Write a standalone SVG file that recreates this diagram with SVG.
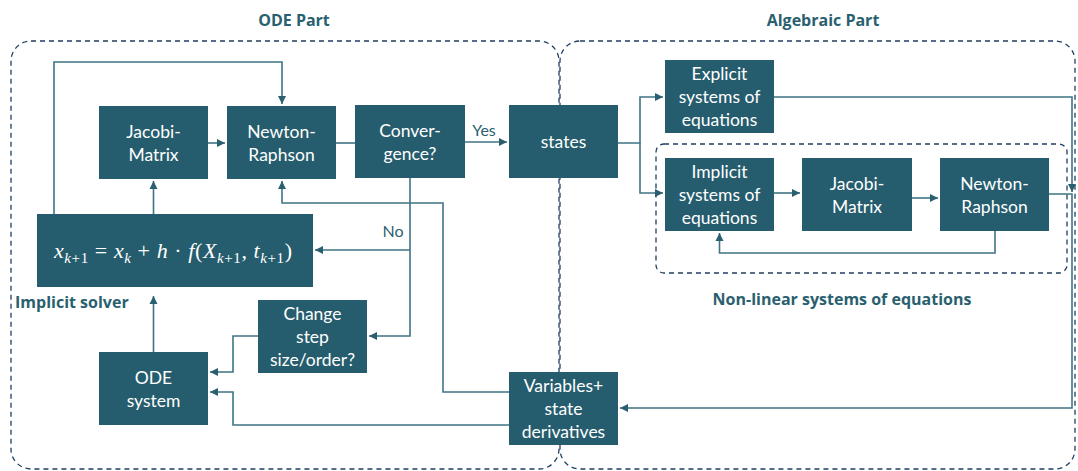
<svg xmlns="http://www.w3.org/2000/svg" width="1078" height="471" viewBox="0 0 1078 471">
<defs>
<style>
.box{fill:#255d6e;}
.lbl{font-family:Lato,"Open Sans","Liberation Sans",sans-serif;font-size:17.5px;fill:#ffffff;text-anchor:middle;}
.ttl{font-family:"Open Sans",Lato,"Liberation Sans",sans-serif;font-size:16px;font-weight:bold;fill:#2a5f70;text-anchor:middle;}
.dash{fill:none;stroke:#1f3f60;stroke-width:1.3;stroke-dasharray:5,4;}
.ln{fill:none;stroke:#3f7484;stroke-width:1.6;}
.tag{font-family:Lato,"Open Sans","Liberation Sans",sans-serif;font-size:16px;fill:#2a5f70;}
.math{font-family:"Liberation Serif","DejaVu Serif",serif;font-size:22px;fill:#ffffff;}
</style>
<marker id="ah" markerWidth="10" markerHeight="10" refX="8" refY="5" orient="auto" markerUnits="userSpaceOnUse">
<path d="M0,1 L8,5 L0,9 Z" fill="#2a5f70"/>
</marker>
</defs>
<rect width="1078" height="471" fill="#ffffff"/>

<g id="frames">
<rect class="dash" x="11" y="41" width="548" height="428" rx="20" ry="20"/>
<rect class="dash" x="560" y="41" width="515" height="428" rx="20" ry="20"/>
<rect class="dash" x="656" y="144" width="411" height="129" rx="8" ry="8"/>
<text class="ttl" x="294" y="26">ODE Part</text>
<text class="ttl" x="823" y="26">Algebraic Part</text>
<text class="ttl" x="842" y="305">Non-linear systems of equations</text>
<text class="ttl" x="15" y="308" style="text-anchor:start">Implicit solver</text>
</g>

<g id="connectors">
<polyline class="ln" points="54,214 54,62 282,62 282,104" marker-end="url(#ah)"/>
<line class="ln" x1="208" y1="143" x2="225" y2="143" marker-end="url(#ah)"/>
<line class="ln" x1="336" y1="143" x2="355" y2="143"/>
<line class="ln" x1="465" y1="142" x2="507" y2="142" marker-end="url(#ah)"/>
<line class="ln" x1="153.5" y1="214" x2="153.5" y2="181" marker-end="url(#ah)"/>
<polyline class="ln" points="509,392 443,392 443,203 282,203 282,181" marker-end="url(#ah)"/>
<polyline class="ln" points="410,178 410,336 369,336" marker-end="url(#ah)"/>
<line class="ln" x1="410" y1="250" x2="315" y2="250" marker-end="url(#ah)"/>
<line class="ln" x1="153.5" y1="352" x2="153.5" y2="296" marker-end="url(#ah)"/>
<polyline class="ln" points="258,336 233,336 233,372 210,372" marker-end="url(#ah)"/>
<polyline class="ln" points="509,425 233,425 233,392 210,392" marker-end="url(#ah)"/>
<polyline class="ln" points="618,143 640,143 640,97 663,97" marker-end="url(#ah)"/>
<polyline class="ln" points="640,143 640,193 663,193" marker-end="url(#ah)"/>
<line class="ln" x1="774" y1="193" x2="800" y2="193" marker-end="url(#ah)"/>
<line class="ln" x1="912" y1="198" x2="938" y2="198" marker-end="url(#ah)"/>
<polyline class="ln" points="995,231 995,253 719.5,253 719.5,233" marker-end="url(#ah)"/>
<polyline class="ln" points="774,97 1072,97 1072,192" marker-end="url(#ah)"/>
<polyline class="ln" points="1049,194 1072,194 1072,408 620,408" marker-end="url(#ah)"/>
<text class="tag" x="484" y="136" text-anchor="middle">Yes</text>
<text class="tag" x="393" y="237" text-anchor="middle">No</text>
</g>

<g id="jacobi1"><rect class="box" x="99" y="106" width="109" height="73"/>
<text class="lbl" x="153.5" y="138">Jacobi-</text><text class="lbl" x="153.5" y="161">Matrix</text></g>
<g id="newton1"><rect class="box" x="227" y="106" width="109" height="73"/>
<text class="lbl" x="281.5" y="138">Newton-</text><text class="lbl" x="281.5" y="161">Raphson</text></g>
<g id="convergence"><rect class="box" x="355" y="105" width="110" height="73"/>
<text class="lbl" x="410" y="137">Conver-</text><text class="lbl" x="410" y="160">gence?</text></g>
<g id="states"><rect class="box" x="509" y="105" width="109" height="73"/>
<text class="lbl" x="563.5" y="148">states</text></g>
<g id="formula"><rect class="box" x="37" y="214" width="276" height="73"/>
<text class="math" x="54" y="258" textLength="238" lengthAdjust="spacing"><tspan font-style="italic">x</tspan><tspan font-style="italic" font-size="15" dy="5">k</tspan><tspan font-size="15">+1</tspan><tspan dy="-5"> = </tspan><tspan font-style="italic">x</tspan><tspan font-style="italic" font-size="15" dy="5">k</tspan><tspan dy="-5"> + </tspan><tspan font-style="italic">h</tspan><tspan> · </tspan><tspan font-style="italic">f</tspan><tspan>(</tspan><tspan font-style="italic">X</tspan><tspan font-style="italic" font-size="15" dy="5">k</tspan><tspan font-size="15">+1</tspan><tspan dy="-5">, </tspan><tspan font-style="italic">t</tspan><tspan font-style="italic" font-size="15" dy="5">k</tspan><tspan font-size="15">+1</tspan><tspan dy="-5">)</tspan></text></g>
<g id="changestep"><rect class="box" x="258" y="300" width="109" height="73"/>
<text class="lbl" x="312.5" y="320">Change</text><text class="lbl" x="312.5" y="343">step</text><text class="lbl" x="312.5" y="366">size/order?</text></g>
<g id="odesystem"><rect class="box" x="99" y="352" width="109" height="73"/>
<text class="lbl" x="153.5" y="384">ODE</text><text class="lbl" x="153.5" y="407">system</text></g>
<g id="variables"><rect class="box" x="509" y="372" width="109" height="73"/>
<text class="lbl" x="563.5" y="392">Variables+</text><text class="lbl" x="563.5" y="415">state</text><text class="lbl" x="563.5" y="438">derivatives</text></g>
<g id="explicit"><rect class="box" x="665" y="60" width="109" height="73"/>
<text class="lbl" x="719.5" y="80">Explicit</text><text class="lbl" x="719.5" y="103">systems of</text><text class="lbl" x="719.5" y="126">equations</text></g>
<g id="implicit"><rect class="box" x="665" y="158" width="109" height="73"/>
<text class="lbl" x="719.5" y="178">Implicit</text><text class="lbl" x="719.5" y="201">systems of</text><text class="lbl" x="719.5" y="224">equations</text></g>
<g id="jacobi2"><rect class="box" x="802" y="158" width="110" height="73"/>
<text class="lbl" x="857" y="190">Jacobi-</text><text class="lbl" x="857" y="213">Matrix</text></g>
<g id="newton2"><rect class="box" x="940" y="158" width="109" height="73"/>
<text class="lbl" x="994.5" y="190">Newton-</text><text class="lbl" x="994.5" y="213">Raphson</text></g>
</svg>
